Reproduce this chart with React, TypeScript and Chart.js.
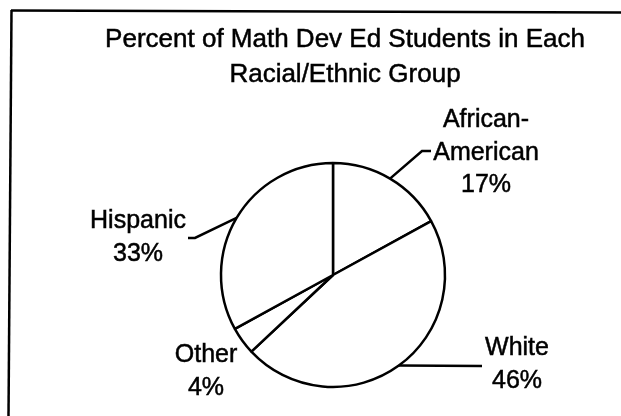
import React, { useEffect, useRef } from "react";
import { Chart, registerables } from "chart.js";

Chart.register(...registerables);

// ---- Data ----
const titleLines = ["Percent of Math Dev Ed Students in Each", "Racial/Ethnic Group"];
const categories = ["African-American", "White", "Other", "Hispanic"];
const labelLines = [["African-", "American"], ["White"], ["Other"], ["Hispanic"]];
const percentages = [17, 46, 4, 33];

// ---- Layout (label anchors relative to pie centre; leader elbows relative to pie centre) ----
const labelLayout = [
  { dx: 153, dy: -148, leader: [[89, -124], [98, -124]] },
  { dx: 184, dy: 80, leader: [[149, 91]] },
  { dx: -127, dy: 87, leader: [] as number[][] },
  { dx: -195, dy: -47, leader: [[-138, -37], [-145, -37]] },
];
const FONT = "'Liberation Sans', Arial, Helvetica, sans-serif";

function heavyText(ctx: CanvasRenderingContext2D, t: string, x: number, y: number) {
  ctx.fillText(t, x, y);
  ctx.lineWidth = 0.5;
  ctx.strokeText(t, x, y);
}

const annotatePlugin = {
  id: "annotate",
  afterDraw(chart: any) {
    const ctx = chart.ctx as CanvasRenderingContext2D;
    const meta = chart.getDatasetMeta(0);
    const total = percentages.reduce((a, b) => a + b, 0);
    ctx.save();
    // frame
    ctx.strokeStyle = "#000";
    ctx.lineWidth = 2.5;
    ctx.beginPath();
    ctx.moveTo(11, 10.5);
    ctx.lineTo(621, 12.5);
    ctx.stroke();
    ctx.beginPath();
    ctx.moveTo(11.5, 10);
    ctx.lineTo(8.5, 416);
    ctx.stroke();
    // title
    ctx.fillStyle = "#000";
    ctx.textAlign = "center";
    ctx.textBaseline = "alphabetic";
    ctx.font = `26px ${FONT}`;
    titleLines.forEach((t, i) => heavyText(ctx, t, 345, 47 + i * 35));
    // slice labels
    ctx.font = `25px ${FONT}`;
    meta.data.forEach((arc: any, i: number) => {
      const p = arc.getProps(["x", "y", "startAngle", "endAngle", "outerRadius"], true);
      const mid = (p.startAngle + p.endAngle) / 2;
      const ex = p.x + Math.cos(mid) * p.outerRadius;
      const ey = p.y + Math.sin(mid) * p.outerRadius;
      const lay = labelLayout[i];
      if (lay.leader.length) {
        ctx.beginPath();
        ctx.lineWidth = 2.5;
        ctx.moveTo(ex, ey);
        lay.leader.forEach(([dx, dy]) => ctx.lineTo(p.x + dx, p.y + dy));
        ctx.stroke();
      }
      const pct = Math.round((percentages[i] / total) * 100) + "%";
      const lines = [...labelLines[i], pct];
      lines.forEach((l, j) => heavyText(ctx, l, p.x + lay.dx, p.y + lay.dy + j * 32.5));
    });
    ctx.restore();
  },
};

export default function App() {
  const ref = useRef<HTMLCanvasElement | null>(null);
  useEffect(() => {
    if (!ref.current) return;
    const chart = new Chart(ref.current, {
      type: "pie",
      data: {
        labels: categories,
        datasets: [
          {
            data: percentages,
            backgroundColor: "#ffffff",
            borderColor: "#000000",
            borderWidth: 2.5,
            hoverOffset: 0,
            radius: 112,
          } as any,
        ],
      },
      options: {
        animation: false,
        responsive: false,
        events: [],
        rotation: 0,
        layout: { padding: { left: 220, right: 175, top: 160, bottom: 26 } },
        plugins: {
          legend: { display: false },
          title: { display: false },
          tooltip: { enabled: false },
        },
      },
      plugins: [annotatePlugin],
    });
    return () => chart.destroy();
  }, []);
  return (
    <div style={{ position: "absolute", left: 0, top: 0, width: 621, height: 416, background: "#fff" }}>
      <canvas ref={ref} width={621} height={416} style={{ display: "block" }} />
    </div>
  );
}
